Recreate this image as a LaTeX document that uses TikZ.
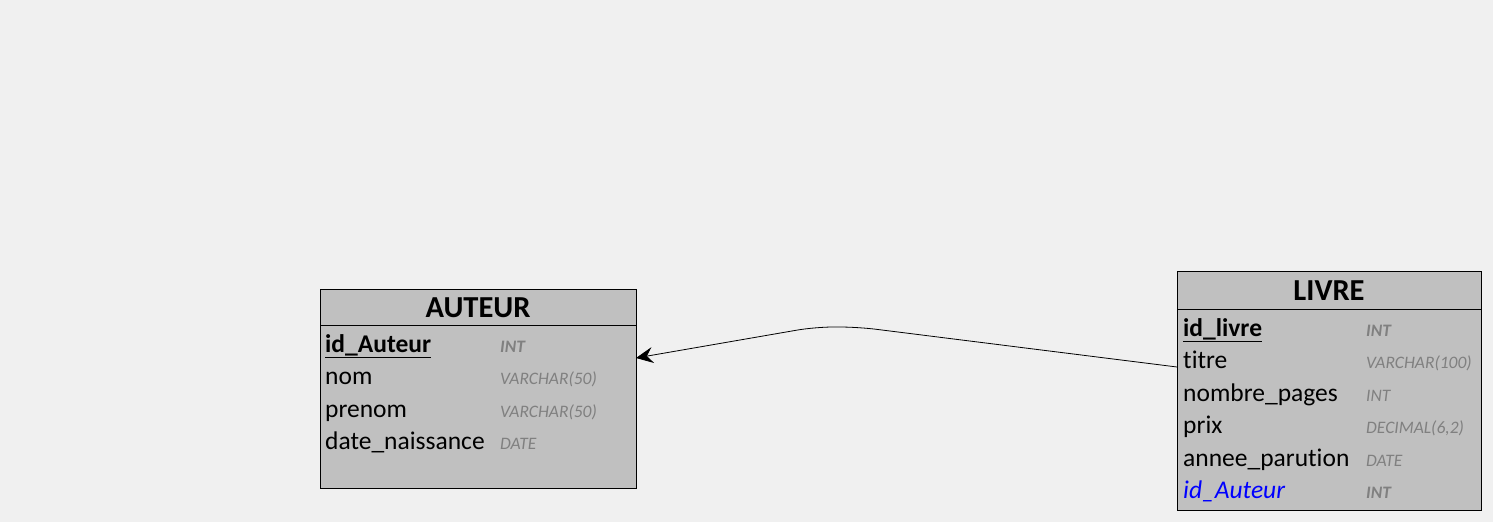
\documentclass[tikz,border=0pt]{standalone}
\usepackage{fontspec}
\setmainfont{Carlito}[Ligatures={NoCommon,NoContextual}]
\usetikzlibrary{arrows.meta}
\definecolor{canvas}{HTML}{F0F0F0}
\definecolor{tablefill}{HTML}{C0C0C0}
\definecolor{typegray}{HTML}{808080}
\definecolor{fkblue}{HTML}{0000FF}
\tikzset{
  tablebox/.style={draw=black, fill=tablefill, line width=0.8pt},
  titletext/.style={font=\fontsize{30.5}{32}\selectfont\bfseries, inner sep=0pt, anchor=base},
  coltext/.style={font=\fontsize{25.5}{27}\selectfont, inner sep=0pt, anchor=base west},
  pktext/.style={coltext, font=\fontsize{25.5}{27}\selectfont\bfseries},
  fktext/.style={coltext, font=\fontsize{25.5}{27}\selectfont\itshape, text=fkblue},
  typetext/.style={font=\fontsize{17.5}{19}\selectfont\itshape, text=typegray, inner sep=0pt, anchor=base west},
  pktype/.style={typetext, font=\fontsize{17.5}{19}\selectfont\bfseries\itshape},
  link/.style={draw=black, line width=0.8pt, rounded corners=18pt, -{Stealth[length=17pt,width=16pt,inset=6pt]}}
}
\begin{document}
\begin{tikzpicture}[x=1pt,y=-1pt]
\useasboundingbox[fill=canvas] (0,0) rectangle (1493,522);
% AUTEUR table
\node[tablebox, minimum width=316pt, minimum height=199pt, inner sep=0pt, anchor=north west] (auteur) at (320,289) {};
\draw[line width=0.8pt] (320,325) -- (636,325);
\node[titletext] (auteurtitle) at (478,317) {AUTEUR};
\node[pktext] (a1) at (325,352) {id\_Auteur};
\draw[line width=1pt] ([yshift=-5pt]a1.base west) -- ([yshift=-5pt]a1.base east);
\node[pktype] (a1t) at (500,352) {INT};
\node[coltext] (a2) at (325,384) {nom};
\node[typetext] (a2t) at (500,384) {VARCHAR(50)};
\node[coltext] (a3) at (325,417) {prenom};
\node[typetext] (a3t) at (500,417) {VARCHAR(50)};
\node[coltext] (a4) at (325,449) {date\_naissance};
\node[typetext] (a4t) at (500,449) {DATE};
% LIVRE table
\node[tablebox, minimum width=304pt, minimum height=239pt, inner sep=0pt, anchor=north west] (livre) at (1177,271) {};
\draw[line width=0.8pt] (1177,309) -- (1481,309);
\node[titletext] (livretitle) at (1329,300) {LIVRE};
\node[pktext] (l1) at (1183,336) {id\_livre};
\draw[line width=1pt] ([yshift=-5pt]l1.base west) -- ([yshift=-5pt]l1.base east);
\node[pktype] (l1t) at (1366,336) {INT};
\node[coltext] (l2) at (1183,368) {titre};
\node[typetext] (l2t) at (1366,368) {VARCHAR(100)};
\node[coltext] (l3) at (1183,401) {nombre\_pages};
\node[typetext] (l3t) at (1366,401) {INT};
\node[coltext] (l4) at (1183,433) {prix};
\node[typetext] (l4t) at (1366,433) {DECIMAL(6,2)};
\node[coltext] (l5) at (1183,466) {annee\_parution};
\node[typetext] (l5t) at (1366,466) {DATE};
\node[fktext] (l6) at (1183,498) {id\_Auteur};
\node[pktype] (l6t) at (1366,498) {INT};
% connector
\coordinate (src) at (1177,367);
\coordinate (bendA) at (858,327);
\coordinate (bendB) at (815,327);
\coordinate (dst) at (636,358);
\draw[link] (src) -- (bendA) -- (bendB) -- (dst);
\end{tikzpicture}
\end{document}
